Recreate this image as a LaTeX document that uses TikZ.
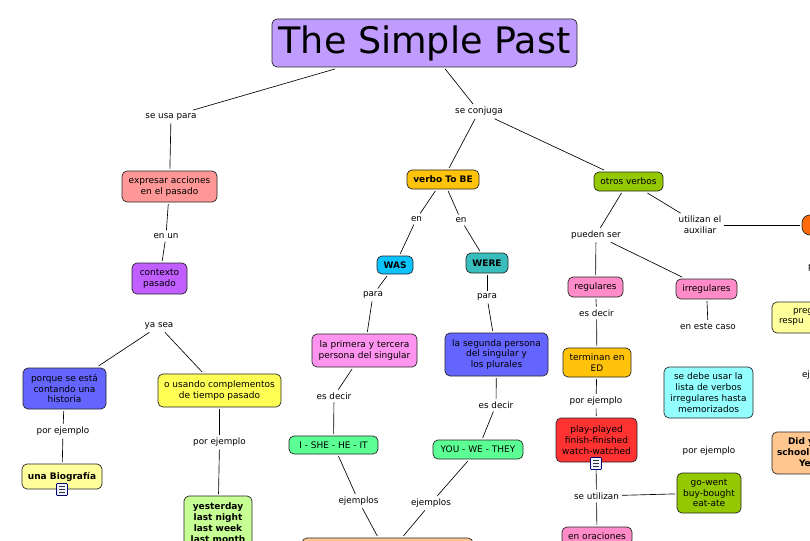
\documentclass[tikz,border=0pt]{standalone}
\usepackage{fontspec}
\setmainfont{DejaVu Sans}
\definecolor{cpur}{HTML}{C09CFF}
\definecolor{cpink}{HTML}{FF9797}
\definecolor{cviol}{HTML}{C05EFF}
\definecolor{cblue}{HTML}{6464FF}
\definecolor{cyel}{HTML}{FFFF55}
\definecolor{clyel}{HTML}{FFFF9C}
\definecolor{clime}{HTML}{C6FF94}
\definecolor{cgold}{HTML}{FFC30B}
\definecolor{colive}{HTML}{94C800}
\definecolor{csky}{HTML}{0BC3FF}
\definecolor{cteal}{HTML}{39BCBC}
\definecolor{cmag}{HTML}{FF94F0}
\definecolor{cmint}{HTML}{5CFF94}
\definecolor{crose}{HTML}{FF8CC8}
\definecolor{ccyan}{HTML}{94FFFF}
\definecolor{cred}{HTML}{FF3232}
\definecolor{cpeach}{HTML}{FFC690}
\definecolor{corange}{HTML}{FF6A0B}
\tikzset{
 x=1pt,y=-1pt,
 cbox/.style={draw=black!85,rounded corners=5pt,line width=.7pt,align=center,inner sep=0pt,outer sep=2pt,font=\fontsize{9}{10.8}\selectfont},
 bbox/.style={cbox,font=\fontsize{9}{11}\selectfont\bfseries},
 lab/.style={align=center,inner sep=0pt,outer sep=3pt,font=\fontsize{8.8}{10.8}\selectfont},
 conn/.style={line width=.65pt},
 doc/.style={draw=blue!45!black,fill=blue!6,line width=.7pt,minimum width=11pt,minimum height=12pt,inner sep=0pt,outer sep=0pt,rounded corners=.8pt,
  path picture={\draw[line width=.8pt,black!80]
    ([xshift=-3pt,yshift=3pt]path picture bounding box.center) -- ++(6,0)
    ([xshift=-3pt,yshift=0pt]path picture bounding box.center) -- ++(6,0)
    ([xshift=-3pt,yshift=-3pt]path picture bounding box.center) -- ++(6,0);}}
}
\begin{document}
\begin{tikzpicture}
\useasboundingbox (0,0) rectangle (810,540);
\clip (0,0) rectangle (810,540);
\node[cbox,fill=cpur,minimum width=305pt,minimum height=48pt,font=\fontsize{36.5}{40}\selectfont] (title) at (424.5,43) {The Simple Past};
\node[lab] (usa) at (171,116.5) {se usa para};
\node[lab] (conj) at (479,111.5) {se conjuga};
\node[cbox,fill=cpink,minimum width=95pt,minimum height=31pt] (expr) at (169.5,186.5) {expresar acciones\\en el pasado};
\node[lab] (enun) at (166,236) {en un};
\node[cbox,fill=cviol,minimum width=55pt,minimum height=31pt] (ctx) at (159.5,278.5) {contexto\\pasado};
\node[lab] (yasea) at (159,326) {ya sea};
\node[cbox,fill=cblue,minimum width=83pt,minimum height=41pt] (porq) at (64.5,388.5) {porque se está\\contando una\\historia};
\node[cbox,fill=cyel,minimum width=123pt,minimum height=33pt] (usando) at (219.5,390.5) {o usando complementos\\de tiempo pasado};
\node[lab] (pe1) at (63,431) {por ejemplo};
\node[lab] (pe2) at (219.5,442) {por ejemplo};
\node[bbox,fill=clyel,minimum width=80pt,minimum height=25pt] (bio) at (62,476.5) {\raisebox{1.5pt}{una Biografía}};
\node[doc] (doca) at (62,489.5) {};
\node[bbox,fill=clime,minimum width=68pt,minimum height=53pt,anchor=north] (yest) at (218,494) {yesterday\\last night\\last week\\last month};
\node[bbox,fill=cgold,minimum width=72pt,minimum height=19pt] (tobe) at (443,179.5) {verbo To BE};
\node[cbox,fill=colive,minimum width=69pt,minimum height=19pt] (otros) at (628.5,181.5) {otros verbos};
\node[lab] (en1) at (416.5,219) {en};
\node[lab] (en2) at (461,220) {en};
\node[bbox,fill=csky,minimum width=36pt,minimum height=18pt] (was) at (395,265) {WAS};
\node[bbox,fill=cteal,minimum width=42pt,minimum height=20pt] (were) at (487,263) {WERE};
\node[lab] (para1) at (373,295) {para};
\node[lab] (para2) at (487,297) {para};
\node[cbox,fill=cmag,minimum width=105pt,minimum height=33pt] (prim) at (364.5,350.5) {la primera y tercera\\persona del singular};
\node[cbox,fill=cblue,minimum width=103pt,minimum height=43pt] (seg) at (496.5,354.5) {la segunda persona\\del singular y\\los plurales};
\node[lab] (ed1) at (334,396) {es decir};
\node[lab] (ed2) at (496,405) {es decir};
\node[cbox,fill=cmint,minimum width=89pt,minimum height=18pt] (ishe) at (333.5,445) {I - SHE - HE - IT};
\node[cbox,fill=cmint,minimum width=90pt,minimum height=19pt] (you) at (478,449.5) {YOU - WE - THEY};
\node[lab] (ej1) at (358.5,501) {ejemplos};
\node[lab] (ej2) at (431,503) {ejemplos};
\node[cbox,fill=cpeach,minimum width=171pt,minimum height=34pt] (bot) at (387.5,555) {};
\node[lab] (pued) at (596,235) {pueden ser};
\node[lab] (util) at (700,225) {utilizan el\\auxiliar};
\node[cbox,fill=corange,minimum width=30pt,minimum height=20pt,rounded corners=8pt] (aux) at (817,225) {};
\node[cbox,fill=crose,minimum width=55pt,minimum height=20pt] (reg) at (595.5,287) {regulares};
\node[cbox,fill=crose,minimum width=61pt,minimum height=20pt] (irr) at (706.5,289) {irregulares};
\node[lab] (ed3) at (596.5,313) {es decir};
\node[lab] (caso) at (708,326) {en este caso};
\node[cbox,fill=cgold,minimum width=68pt,minimum height=29pt] (term) at (597,362.5) {terminan en\\ED};
\node[cbox,fill=ccyan,minimum width=89pt,minimum height=51pt] (lista) at (708.5,392.5) {se debe usar la\\lista de verbos\\irregulares hasta\\memorizados};
\node[lab] (pe3) at (596,401) {por ejemplo};
\node[lab] (pe4) at (709,451) {por ejemplo};
\node[cbox,fill=cred,minimum width=81pt,minimum height=44pt] (play) at (596.5,440) {play-played\\finish-finished\\watch-watched};
\node[doc] (docb) at (596,463.5) {};
\node[lab] (seut) at (596.5,496) {se utilizan};
\node[cbox,fill=colive,minimum width=64pt,minimum height=40pt] (go) at (709,493) {go-went\\buy-bought\\eat-ate};
\node[cbox,fill=crose,minimum width=70pt,minimum height=18pt,anchor=north] (orac) at (597,525) {en oraciones};
\node[cbox,fill=clyel,minimum width=70pt,minimum height=31pt] (preg) at (807,317.5) {};
\node[lab,anchor=west] (pregt) at (790,312) {preg};
\node[lab,anchor=west] (respt) at (776,322) {respu};
\node[cbox,fill=cpeach,minimum width=70pt,minimum height=42pt] (did) at (807,453) {};
\node[bbox,draw=none,anchor=west] (didt) at (786,442) {Did y};
\node[bbox,draw=none,anchor=west] (schoolt) at (775,452.5) {school};
\node[bbox,draw=none,anchor=west] (yet) at (797,463) {Ye};
\node[lab,anchor=west] (rp) at (805,268) {p};
\node[lab,anchor=west] (rc) at (799,375.5) {ej};
\draw[conn] (title) -- (usa);
\draw[conn] (title) -- (conj);
\draw[conn] (conj) -- (tobe);
\draw[conn] (conj) -- (otros);
\draw[conn] (usa) -- (expr);
\draw[conn] (expr) -- (enun);
\draw[conn] (enun) -- (ctx);
\draw[conn] (yasea) -- (porq);
\draw[conn] (yasea) -- (usando);
\draw[conn] (porq) -- (pe1);
\draw[conn] (pe1) -- (bio);
\draw[conn] (usando) -- (pe2);
\draw[conn] (pe2) -- (yest);
\draw[conn] (tobe) -- (en1);
\draw[conn] (en1) -- (was);
\draw[conn] (tobe) -- (en2);
\draw[conn] (en2) -- (were);
\draw[conn] (was) -- (para1);
\draw[conn] (para1) -- (prim);
\draw[conn] (were) -- (para2);
\draw[conn] (para2) -- (seg);
\draw[conn] (prim) -- (ed1);
\draw[conn] (ed1) -- (ishe);
\draw[conn] (seg) -- (ed2);
\draw[conn] (ed2) -- (you);
\draw[conn] (ishe) -- (ej1);
\draw[conn] (ej1) -- (bot);
\draw[conn] (you) -- (ej2);
\draw[conn] (ej2) -- (bot);
\draw[conn] (otros) -- (pued);
\draw[conn] (otros) -- (util);
\draw[conn] (util) -- (aux);
\draw[conn] (pued) -- (reg);
\draw[conn] (pued) -- (irr);
\draw[conn] (reg) -- (ed3);
\draw[conn] (ed3) -- (term);
\draw[conn] (irr) -- (caso);
\draw[conn] (term) -- (pe3);
\draw[conn] (pe3) -- (play);
\draw[conn] (docb) -- (seut);
\draw[conn] (seut) -- (orac);
\draw[conn] (seut) -- (go);
\end{tikzpicture}
\end{document}
